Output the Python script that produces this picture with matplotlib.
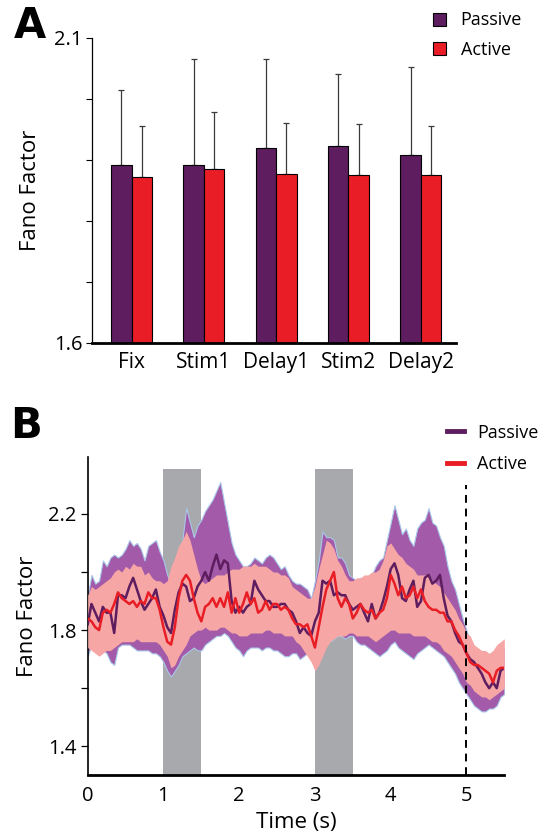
import numpy as np
import matplotlib
matplotlib.use("Agg")
import matplotlib.pyplot as plt
from matplotlib.patches import Patch
from matplotlib.lines import Line2D

plt.rcParams["font.family"] = ["Open Sans", "DejaVu Sans"]

# ---------------- data: panel A ----------------
epochs = ["Fix", "Stim1", "Delay1", "Stim2", "Delay2"]
passive_ff = [1.892, 1.892, 1.920, 1.922, 1.907]
active_ff = [1.872, 1.884, 1.877, 1.875, 1.875]
passive_err = [0.123, 0.173, 0.145, 0.118, 0.145]
active_err = [0.083, 0.094, 0.083, 0.083, 0.080]

# ---------------- data: panel B (sampled every 50 ms, 0 .. 5.5 s) ----------------
time_s = np.linspace(0.0, 5.5, 111)

passive_mean = [
    1.82, 1.89, 1.86, 1.83, 1.88, 1.86, 1.86, 1.79, 1.92, 1.92,
    1.91, 1.95, 1.98, 1.94, 1.90, 1.87, 1.89, 1.91, 1.94, 1.88,
    1.85, 1.81, 1.79, 1.87, 1.93, 1.96, 1.95, 1.90, 1.91, 1.95,
    1.97, 2.00, 1.97, 2.02, 2.06, 2.01, 2.04, 2.03, 1.90, 1.86,
    1.88, 1.86, 1.88, 1.89, 1.97, 1.94, 1.92, 1.90, 1.90, 1.88,
    1.88, 1.89, 1.89, 1.87, 1.86, 1.83, 1.79, 1.81, 1.79, 1.78,
    1.83, 1.86, 1.97, 1.96, 1.97, 1.92, 1.93, 1.92, 1.92, 1.89,
    1.87, 1.88, 1.89, 1.86, 1.83, 1.89, 1.84, 1.86, 1.90, 1.95,
    2.01, 2.03, 1.99, 1.91, 1.90, 1.94, 1.97, 1.88, 1.90, 1.98,
    1.99, 1.96, 1.97, 1.99, 1.91, 1.85, 1.83, 1.79, 1.76, 1.75,
    1.72, 1.70, 1.69, 1.67, 1.65, 1.62, 1.60, 1.62, 1.60, 1.66, 1.67,
]
passive_upper = [
    1.92, 1.99, 1.96, 1.97, 2.04, 2.02, 2.05, 2.06, 2.05, 2.06,
    2.08, 2.11, 2.09, 2.10, 2.08, 2.04, 2.09, 2.10, 2.11, 2.07,
    2.04, 1.99, 1.96, 1.99, 2.05, 2.11, 2.22, 2.17, 2.12, 2.16,
    2.18, 2.21, 2.23, 2.25, 2.28, 2.31, 2.24, 2.17, 2.10, 2.06,
    2.04, 2.02, 2.02, 2.03, 2.05, 2.04, 2.03, 2.05, 2.06, 2.05,
    2.03, 2.01, 2.02, 1.99, 1.97, 1.96, 1.96, 1.95, 1.94, 1.91,
    1.97, 2.04, 2.14, 2.12, 2.12, 2.11, 2.05, 2.05, 2.03, 1.99,
    1.98, 1.97, 1.98, 1.97, 1.97, 1.99, 2.02, 2.04, 2.05, 2.11,
    2.17, 2.23, 2.18, 2.13, 2.15, 2.11, 2.09, 2.15, 2.17, 2.18,
    2.22, 2.17, 2.16, 2.12, 2.09, 2.02, 1.97, 1.94, 1.89, 1.84,
    1.80, 1.76, 1.73, 1.72, 1.71, 1.71, 1.69, 1.71, 1.72, 1.73, 1.74,
]
passive_lower = [
    1.71, 1.75, 1.74, 1.72, 1.73, 1.72, 1.69, 1.68, 1.74, 1.75,
    1.75, 1.75, 1.74, 1.73, 1.73, 1.73, 1.73, 1.72, 1.72, 1.71,
    1.69, 1.66, 1.64, 1.66, 1.68, 1.71, 1.72, 1.73, 1.74, 1.73,
    1.73, 1.75, 1.76, 1.77, 1.78, 1.78, 1.79, 1.78, 1.76, 1.74,
    1.73, 1.71, 1.73, 1.74, 1.74, 1.74, 1.73, 1.74, 1.74, 1.73,
    1.73, 1.72, 1.71, 1.71, 1.72, 1.72, 1.70, 1.71, 1.72, 1.73,
    1.74, 1.75, 1.76, 1.76, 1.76, 1.77, 1.78, 1.78, 1.77, 1.78,
    1.78, 1.76, 1.75, 1.75, 1.74, 1.73, 1.72, 1.71, 1.72, 1.73,
    1.75, 1.76, 1.74, 1.73, 1.72, 1.71, 1.70, 1.72, 1.73, 1.74,
    1.75, 1.74, 1.73, 1.72, 1.71, 1.69, 1.67, 1.65, 1.62, 1.60,
    1.58, 1.56, 1.54, 1.53, 1.52, 1.52, 1.53, 1.53, 1.54, 1.57, 1.58,
]

active_mean = [
    1.84, 1.83, 1.81, 1.80, 1.86, 1.87, 1.86, 1.89, 1.93, 1.91,
    1.90, 1.89, 1.90, 1.88, 1.90, 1.89, 1.93, 1.91, 1.91, 1.87,
    1.81, 1.76, 1.75, 1.81, 1.91, 1.97, 1.99, 1.97, 1.91, 1.86,
    1.83, 1.88, 1.89, 1.91, 1.88, 1.91, 1.88, 1.93, 1.86, 1.91,
    1.86, 1.89, 1.93, 1.89, 1.91, 1.86, 1.87, 1.90, 1.87, 1.89,
    1.89, 1.87, 1.88, 1.87, 1.84, 1.82, 1.82, 1.81, 1.82, 1.78,
    1.74, 1.81, 1.88, 1.94, 1.97, 2.00, 1.91, 1.88, 1.91, 1.89,
    1.84, 1.86, 1.89, 1.87, 1.86, 1.87, 1.84, 1.86, 1.87, 1.91,
    1.99, 1.96, 1.92, 1.95, 1.91, 1.92, 1.95, 1.91, 1.94, 1.90,
    1.88, 1.87, 1.87, 1.86, 1.86, 1.83, 1.83, 1.80, 1.78, 1.75,
    1.72, 1.69, 1.68, 1.68, 1.67, 1.66, 1.65, 1.62, 1.66, 1.67, 1.67,
]
active_upper = [
    1.92, 1.95, 1.94, 1.95, 1.96, 1.97, 1.98, 2.00, 2.01, 2.00,
    2.02, 2.01, 2.03, 2.02, 2.02, 1.99, 2.00, 1.98, 1.97, 1.97,
    1.96, 1.97, 2.02, 2.05, 2.09, 2.11, 2.14, 2.11, 2.06, 2.01,
    1.97, 1.96, 1.97, 1.98, 1.99, 1.99, 1.99, 2.00, 2.01, 2.01,
    2.01, 2.02, 2.02, 2.02, 2.03, 2.02, 2.02, 2.02, 2.01, 2.00,
    2.00, 1.99, 1.99, 1.98, 1.95, 1.94, 1.93, 1.92, 1.91, 1.91,
    1.95, 2.01, 2.06, 2.11, 2.10, 2.08, 2.04, 2.02, 1.99, 1.97,
    1.97, 1.98, 1.98, 1.99, 1.99, 2.00, 2.00, 2.01, 2.04, 2.09,
    2.10, 2.08, 2.06, 2.05, 2.03, 2.02, 2.01, 1.99, 1.99, 1.99,
    1.99, 1.97, 1.96, 1.95, 1.93, 1.91, 1.89, 1.87, 1.84, 1.82,
    1.79, 1.78, 1.75, 1.74, 1.73, 1.73, 1.72, 1.73, 1.75, 1.76, 1.77,
]
active_lower = [
    1.74, 1.73, 1.72, 1.71, 1.72, 1.73, 1.73, 1.74, 1.75, 1.76,
    1.76, 1.76, 1.76, 1.77, 1.76, 1.76, 1.76, 1.76, 1.76, 1.75,
    1.73, 1.71, 1.67, 1.68, 1.71, 1.73, 1.75, 1.78, 1.79, 1.80,
    1.80, 1.81, 1.80, 1.80, 1.80, 1.81, 1.81, 1.80, 1.79, 1.79,
    1.78, 1.78, 1.78, 1.79, 1.79, 1.79, 1.79, 1.80, 1.80, 1.79,
    1.79, 1.79, 1.78, 1.78, 1.78, 1.76, 1.75, 1.73, 1.71, 1.69,
    1.66, 1.68, 1.71, 1.74, 1.76, 1.77, 1.78, 1.78, 1.78, 1.79,
    1.79, 1.78, 1.78, 1.78, 1.78, 1.77, 1.76, 1.77, 1.78, 1.79,
    1.80, 1.80, 1.79, 1.79, 1.79, 1.79, 1.78, 1.78, 1.78, 1.78,
    1.77, 1.76, 1.76, 1.75, 1.73, 1.72, 1.71, 1.69, 1.67, 1.65,
    1.62, 1.61, 1.59, 1.58, 1.57, 1.57, 1.56, 1.57, 1.58, 1.59, 1.60,
]

stim_windows = [(1.0, 1.5), (3.0, 3.5)]
response_time = 5.0

# ---------------- styling ----------------
PASSIVE = "#5e1d5f"
ACTIVE = "#e91d25"
PASSIVE_BAND = "#a25aa9"
ACTIVE_BAND = "#f6a7a5"
BAND_EDGE = "#a9c8ea"
STIM_GREY = "#a7a9ac"
TICK_FS = 15
LABEL_FS = 16

fig = plt.figure(figsize=(5.42, 8.38), dpi=100)

# ------------------------------------------------------------------
# Panel A - bar chart
# ------------------------------------------------------------------
ax = fig.add_axes([0.170, 0.591, 0.671, 0.364])
x = np.arange(len(epochs))
w = 0.283
ax.bar(x - w / 2, np.array(passive_ff) - 1.6, w, bottom=1.6, color=PASSIVE,
       edgecolor="black", linewidth=0.8, label="Passive", zorder=2)
ax.bar(x + w / 2, np.array(active_ff) - 1.6, w, bottom=1.6, color=ACTIVE,
       edgecolor="black", linewidth=0.8, label="Active", zorder=2)
ax.errorbar(x - w / 2, passive_ff, yerr=[np.zeros(len(x)), passive_err],
            fmt="none", ecolor="#3a3a3a", elinewidth=0.9, capsize=2.5,
            capthick=0.9, zorder=1)
ax.errorbar(x + w / 2, active_ff, yerr=[np.zeros(len(x)), active_err],
            fmt="none", ecolor="#3a3a3a", elinewidth=0.9, capsize=2.5,
            capthick=0.9, zorder=1)
ax.set_xlim(-0.545, 4.485)
ax.set_ylim(1.6, 2.1)
ax.set_yticks([1.6, 1.7, 1.8, 1.9, 2.0, 2.1])
ax.set_yticklabels(["1.6", "", "", "", "", "2.1"])
ax.set_xticks(x)
ax.set_xticklabels(epochs)
ax.tick_params(axis="x", length=0, labelsize=TICK_FS, pad=7)
ax.tick_params(axis="y", length=4, width=0.8, labelsize=TICK_FS - 0.5, pad=3)
ax.set_ylabel("Fano Factor", fontsize=LABEL_FS, labelpad=9)
for side in ("top", "right"):
    ax.spines[side].set_visible(False)
ax.spines["left"].set_linewidth(0.9)
ax.spines["bottom"].set_linewidth(2.0)
handles_a = [Patch(facecolor=PASSIVE, edgecolor="black", linewidth=0.8),
             Patch(facecolor=ACTIVE, edgecolor="black", linewidth=0.8)]
ax.legend(handles_a, ["Passive", "Active"], loc="upper left",
          bbox_to_anchor=(0.785, 0.995), bbox_transform=fig.transFigure,
          frameon=False, fontsize=13, handlelength=0.75, handleheight=0.75,
          handletextpad=0.8, labelspacing=0.65, borderaxespad=0)
fig.text(0.025, 0.994, "A", fontsize=30, fontweight="bold", va="top",
         family=["Liberation Sans Narrow", "DejaVu Sans"])

# ------------------------------------------------------------------
# Panel B - time course
# ------------------------------------------------------------------
ax = fig.add_axes([0.1618, 0.0748, 0.7687, 0.3795])
for t0, t1 in stim_windows:
    ax.fill_between([t0, t1], 1.3, 2.355, color=STIM_GREY, linewidth=0, zorder=1)
ax.fill_between(time_s, passive_lower, passive_upper, color=PASSIVE_BAND,
                edgecolor=BAND_EDGE, linewidth=0.8, zorder=2)
ax.fill_between(time_s, active_lower, active_upper, color=ACTIVE_BAND,
                linewidth=0, zorder=3)
ax.plot(time_s, passive_mean, color=PASSIVE, linewidth=1.8, zorder=4,
        label="Passive")
ax.plot(time_s, active_mean, color=ACTIVE, linewidth=1.8, zorder=5,
        label="Active")
ax.plot([response_time, response_time], [1.3, 2.3], color="black",
        linewidth=1.4, linestyle=(0, (4, 3)), zorder=6)
ax.set_xlim(0, 5.5)
ax.set_ylim(1.3, 2.395)
ax.set_xticks([0, 1, 2, 3, 4, 5])
ax.set_yticks([1.4, 1.6, 1.8, 2.0, 2.2])
ax.set_yticklabels(["1.4", "", "1.8", "", "2.2"])
ax.tick_params(axis="x", length=0, labelsize=TICK_FS - 0.5, pad=8)
ax.tick_params(axis="y", length=5, width=0.9, labelsize=TICK_FS - 0.5, pad=3)
ax.set_xlabel("Time (s)", fontsize=LABEL_FS, labelpad=4)
ax.set_ylabel("Fano Factor", fontsize=LABEL_FS, labelpad=7)
for side in ("top", "right"):
    ax.spines[side].set_visible(False)
ax.spines["left"].set_linewidth(1.2)
ax.spines["bottom"].set_linewidth(2.0)
handles_b = [Line2D([], [], color=PASSIVE, linewidth=3.5),
             Line2D([], [], color=ACTIVE, linewidth=3.5)]
ax.legend(handles_b, ["Passive", "Active"], loc="upper left",
          bbox_to_anchor=(0.812, 0.503), bbox_transform=fig.transFigure,
          frameon=False, fontsize=13, handlelength=0.95, handletextpad=0.7,
          labelspacing=0.75, borderaxespad=0)
fig.text(0.018, 0.517, "B", fontsize=30, fontweight="bold", va="top",
         family=["Liberation Sans Narrow", "DejaVu Sans"])

fig.savefig("out.png", dpi=100)
